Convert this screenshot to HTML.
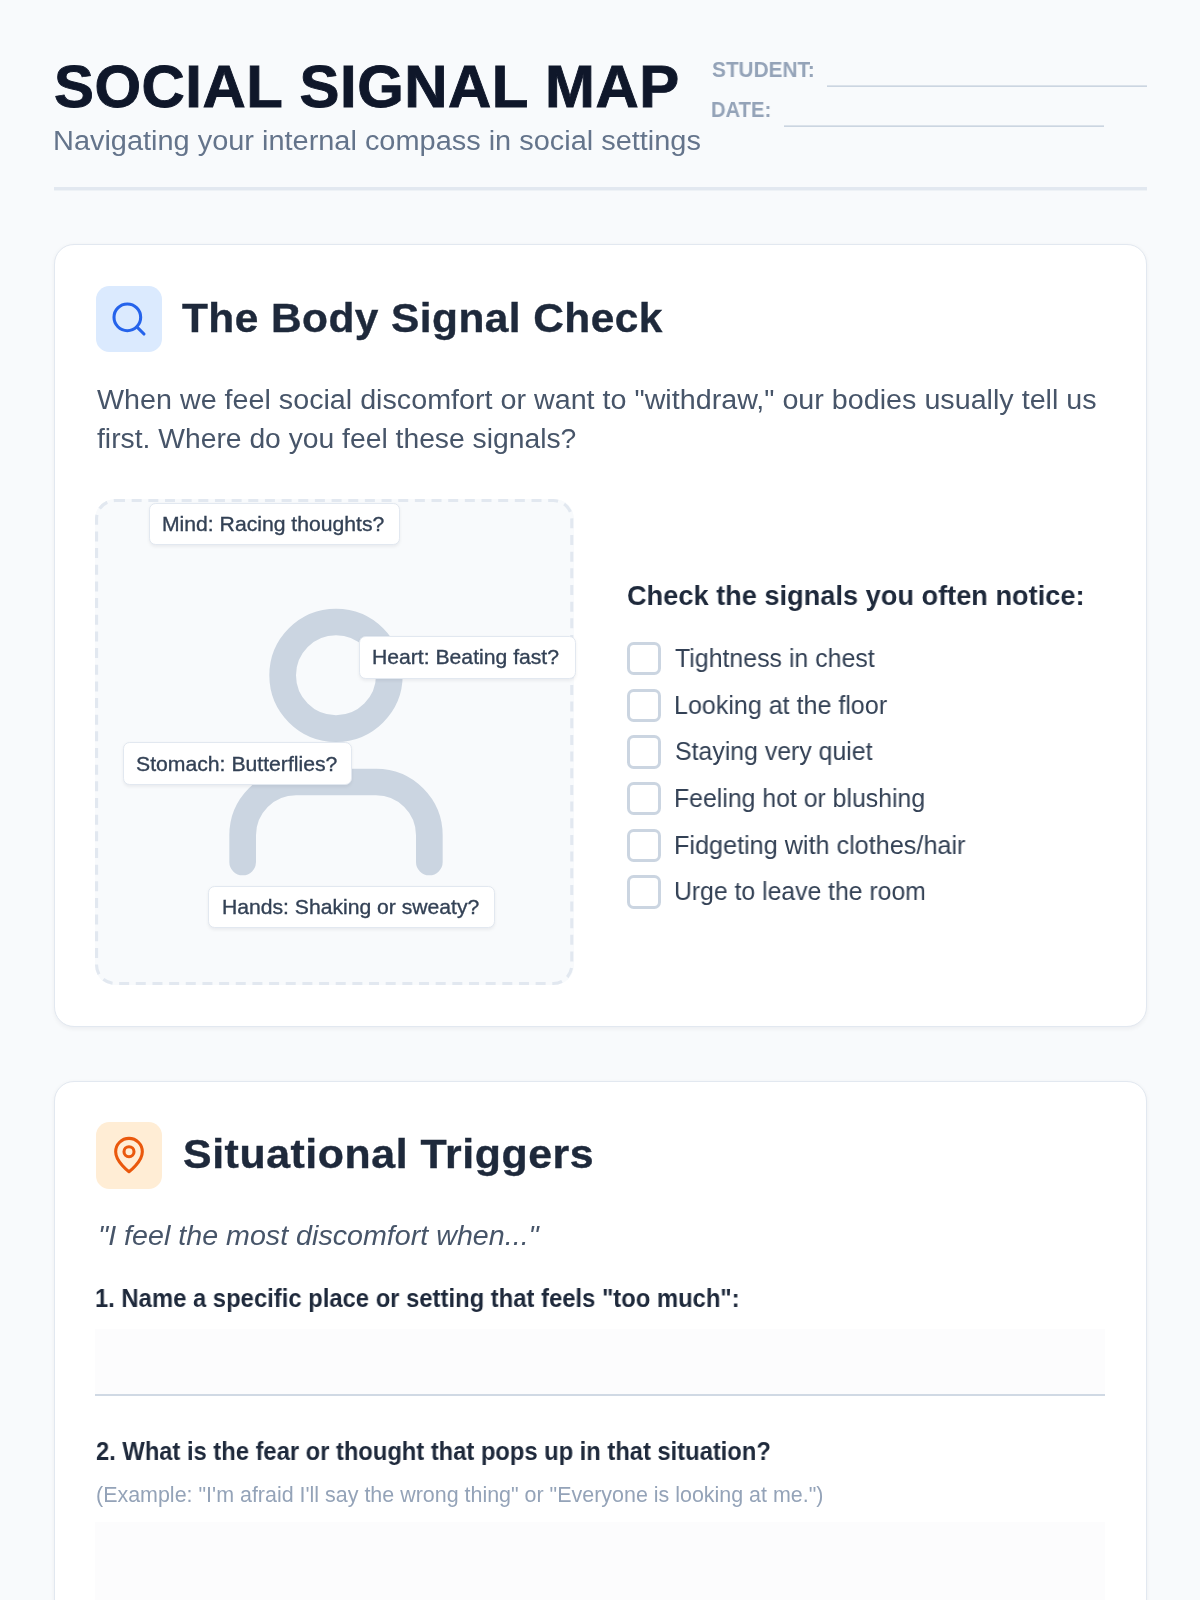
<!DOCTYPE html>
<html lang="en">
<head>
<meta charset="utf-8">
<title>Social Signal Map</title>
<style>
*{margin:0;padding:0;box-sizing:border-box}
html,body{width:1200px;height:1600px;overflow:hidden}
body{background:#f8fafc;font-family:"Liberation Sans",sans-serif;position:relative}
.abs{position:absolute}
.t{position:absolute;white-space:nowrap;will-change:transform;font-family:"Liberation Sans",sans-serif}
.hline{position:absolute;left:54px;top:187px;width:1093px;height:3px;background:#e2e8f0;box-shadow:0 1px 0 rgba(226,232,240,.45)}
.fline{position:absolute;height:2px;width:320px;background:linear-gradient(#dbe2ea 50%,#cbd5e1 50%)}
.card{position:absolute;left:54px;width:1093px;background:#fff;border:1px solid #e2e8f0;border-radius:20px;box-shadow:0 1.67px 4px rgba(15,23,42,.05)}
.ibox{position:absolute;left:95.7px;width:66.5px;height:66.5px;border-radius:13.33px}
.ibox svg{position:absolute;left:13px;top:13.2px;width:40px;height:40px;fill:none;stroke-width:1.85;stroke-linecap:round;stroke-linejoin:round}
.map{position:absolute;left:95.33px;top:499.3px;width:478.33px;height:486px;border-radius:20px;background:#f8fafc}
.lab{position:absolute;background:#fff;border:1.67px solid #e2e8f0;border-radius:6.67px;box-shadow:0 1.67px 3.33px rgba(15,23,42,.06)}
.cb{position:absolute;left:627.4px;width:33.33px;height:33.33px;border:3.33px solid #cbd5e1;border-radius:6.67px;background:#fff}
.wa{position:absolute;left:95.33px;width:1010px;background:#fcfcfd;border-bottom:2px solid #d0d9e4}
</style>
</head>
<body>
<div class="hline"></div>
<div class="fline" style="left:827px;top:85px"></div>
<div class="fline" style="left:784px;top:125px"></div>

<div class="card" style="top:244px;height:783px"></div>
<div class="card" style="top:1081px;height:700px"></div>

<div class="ibox" style="top:285.5px;background:#dbeafe">
  <svg viewBox="0 0 24 24" stroke="#2563eb"><circle cx="11" cy="11" r="8"/><path d="m21 21-4.3-4.3"/></svg>
</div>
<div class="ibox" style="top:1122px;background:#ffedd5">
  <svg viewBox="0 0 24 24" stroke="#ea580c"><path d="M20 10c0 6-8 12-8 12s-8-6-8-12a8 8 0 0 1 16 0Z"/><circle cx="12" cy="10" r="3"/></svg>
</div>

<div class="map"></div>
<svg class="abs" style="left:95.33px;top:499.3px" width="478.33" height="486" viewBox="0 0 478.33 486" fill="none">
  <path d="M20 1.55H458.33A18.45 18.45 0 0 1 476.78 20V466A18.45 18.45 0 0 1 458.33 484.45H20A18.45 18.45 0 0 1 1.55 466V20A18.45 18.45 0 0 1 20 1.55Z" stroke="#e2e8f0" stroke-width="3.1" stroke-dasharray="10 6.66"/>
</svg>
<svg class="abs" style="left:175.8px;top:581.8px" width="320" height="320" viewBox="0 0 24 24" fill="none" stroke="#cbd5e1" stroke-width="2" stroke-linecap="round" stroke-linejoin="round"><path d="M19 21v-2a4 4 0 0 0-4-4H9a4 4 0 0 0-4 4v2"/><circle cx="12" cy="7" r="4"/></svg>

<div class="lab" style="left:149.3px;top:503.2px;width:251px;height:42.3px"></div>
<div class="lab" style="left:359.3px;top:636.3px;width:216.4px;height:42.3px"></div>
<div class="lab" style="left:123.2px;top:742.4px;width:229px;height:42.3px"></div>
<div class="lab" style="left:207.7px;top:885.8px;width:287.4px;height:42.3px"></div>

<div class="cb" style="top:642px"></div>
<div class="cb" style="top:688.7px"></div>
<div class="cb" style="top:735.3px"></div>
<div class="cb" style="top:782px"></div>
<div class="cb" style="top:828.7px"></div>
<div class="cb" style="top:875.3px"></div>

<div class="wa" style="top:1329px;height:67px"></div>
<div class="wa" style="top:1522.4px;height:133px"></div>

<div class="t" id="title" style="left:54.36px;top:51.12px;font-size:59.88px;line-height:71.86px;font-weight:700;color:#0f172a;letter-spacing:0.540px;-webkit-text-stroke:0.9px #0f172a;">SOCIAL SIGNAL MAP</div>
<div class="t" id="sub" style="left:53.04px;top:124.21px;font-size:28.2px;line-height:33.84px;font-weight:400;color:#64748b;letter-spacing:0.000px;transform:scaleX(1.0261);transform-origin:0 0;">Navigating your internal compass in social settings</div>
<div class="t" id="stu" style="left:711.68px;top:56.92px;font-size:21.22px;line-height:25.46px;font-weight:700;color:#94a3b8;letter-spacing:0.000px;transform:scaleX(0.9793);transform-origin:0 0;">STUDENT:</div>
<div class="t" id="dat" style="left:710.74px;top:96.62px;font-size:21.22px;line-height:25.46px;font-weight:700;color:#94a3b8;letter-spacing:0.000px;transform:scaleX(0.9523);transform-origin:0 0;">DATE:</div>
<div class="t" id="h1" style="left:182.30px;top:293.55px;font-size:40.41px;line-height:48.49px;font-weight:700;color:#1e293b;letter-spacing:0.423px;-webkit-text-stroke:0.4px #1e293b;transform:scaleX(1.05);transform-origin:0 0;">The Body Signal Check</div>
<div class="t" id="p1" style="left:97.00px;top:382.86px;font-size:28.2px;line-height:33.84px;font-weight:400;color:#475569;letter-spacing:-0.000px;transform:scaleX(1.018);transform-origin:0 0;">When we feel social discomfort or want to "withdraw," our bodies usually tell us</div>
<div class="t" id="p2" style="left:97.00px;top:421.91px;font-size:28.2px;line-height:33.84px;font-weight:400;color:#475569;letter-spacing:-0.000px;transform:scaleX(1.003);transform-origin:0 0;">first. Where do you feel these signals?</div>
<div class="t" id="l1" style="left:161.65px;top:510.92px;font-size:20.9px;line-height:25.08px;font-weight:400;color:#334155;letter-spacing:0.000px;-webkit-text-stroke:0.35px #334155;transform:scaleX(1.0127);transform-origin:0 0;">Mind: Racing thoughts?</div>
<div class="t" id="l2" style="left:371.95px;top:644.22px;font-size:20.9px;line-height:25.08px;font-weight:400;color:#334155;letter-spacing:-0.000px;-webkit-text-stroke:0.35px #334155;transform:scaleX(1.0128);transform-origin:0 0;">Heart: Beating fast?</div>
<div class="t" id="l3" style="left:135.74px;top:750.52px;font-size:20.9px;line-height:25.08px;font-weight:400;color:#334155;letter-spacing:0.000px;-webkit-text-stroke:0.35px #334155;transform:scaleX(1.0143);transform-origin:0 0;">Stomach: Butterflies?</div>
<div class="t" id="l4" style="left:221.65px;top:894.22px;font-size:20.9px;line-height:25.08px;font-weight:400;color:#334155;letter-spacing:0.000px;-webkit-text-stroke:0.35px #334155;transform:scaleX(1.0116);transform-origin:0 0;">Hands: Shaking or sweaty?</div>
<div class="t" id="ch" style="left:627.15px;top:579.31px;font-size:28.2px;line-height:33.84px;font-weight:700;color:#1e293b;letter-spacing:-0.001px;transform:scaleX(0.9641);transform-origin:0 0;">Check the signals you often notice:</div>
<div class="t" id="c1" style="left:675.21px;top:642.92px;font-size:25.44px;line-height:30.53px;font-weight:400;color:#334155;letter-spacing:0.000px;transform:scaleX(0.9785);transform-origin:0 0;">Tightness in chest</div>
<div class="t" id="c2" style="left:673.64px;top:689.62px;font-size:25.44px;line-height:30.53px;font-weight:400;color:#334155;letter-spacing:0.000px;transform:scaleX(0.9847);transform-origin:0 0;">Looking at the floor</div>
<div class="t" id="c3" style="left:674.82px;top:736.22px;font-size:25.44px;line-height:30.53px;font-weight:400;color:#334155;letter-spacing:0.000px;transform:scaleX(0.9766);transform-origin:0 0;">Staying very quiet</div>
<div class="t" id="c4" style="left:673.66px;top:782.92px;font-size:25.44px;line-height:30.53px;font-weight:400;color:#334155;letter-spacing:-0.000px;transform:scaleX(0.9757);transform-origin:0 0;">Feeling hot or blushing</div>
<div class="t" id="c5" style="left:673.63px;top:829.62px;font-size:25.44px;line-height:30.53px;font-weight:400;color:#334155;letter-spacing:-0.001px;transform:scaleX(0.9911);transform-origin:0 0;">Fidgeting with clothes/hair</div>
<div class="t" id="c6" style="left:674.05px;top:876.22px;font-size:25.44px;line-height:30.53px;font-weight:400;color:#334155;letter-spacing:-0.000px;transform:scaleX(0.9732);transform-origin:0 0;">Urge to leave the room</div>
<div class="t" id="h2" style="left:182.63px;top:1130.05px;font-size:40.41px;line-height:48.49px;font-weight:700;color:#1e293b;letter-spacing:0.534px;-webkit-text-stroke:0.4px #1e293b;transform:scaleX(1.06);transform-origin:0 0;">Situational Triggers</div>
<div class="t" id="qt" style="left:98.36px;top:1219.31px;font-size:28.2px;line-height:33.84px;font-weight:400;font-style:italic;color:#475569;letter-spacing:0.000px;transform:scaleX(1.0165);transform-origin:0 0;">"I feel the most discomfort when..."</div>
<div class="t" id="q1" style="left:95.31px;top:1282.66px;font-size:25.29px;line-height:30.35px;font-weight:700;color:#1e293b;letter-spacing:-0.000px;transform:scaleX(0.9421);transform-origin:0 0;">1. Name a specific place or setting that feels "too much":</div>
<div class="t" id="q2" style="left:95.86px;top:1436.06px;font-size:25.29px;line-height:30.35px;font-weight:700;color:#1e293b;letter-spacing:-0.019px;transform:scaleX(0.94);transform-origin:0 0;">2. What is the fear or thought that pops up in that situation?</div>
<div class="t" id="ex" style="left:95.99px;top:1481.92px;font-size:21.22px;line-height:25.46px;font-weight:400;color:#94a3b8;letter-spacing:0.000px;transform:scaleX(1.0105);transform-origin:0 0;">(Example: "I'm afraid I'll say the wrong thing" or "Everyone is looking at me.")</div>
</body>
</html>
